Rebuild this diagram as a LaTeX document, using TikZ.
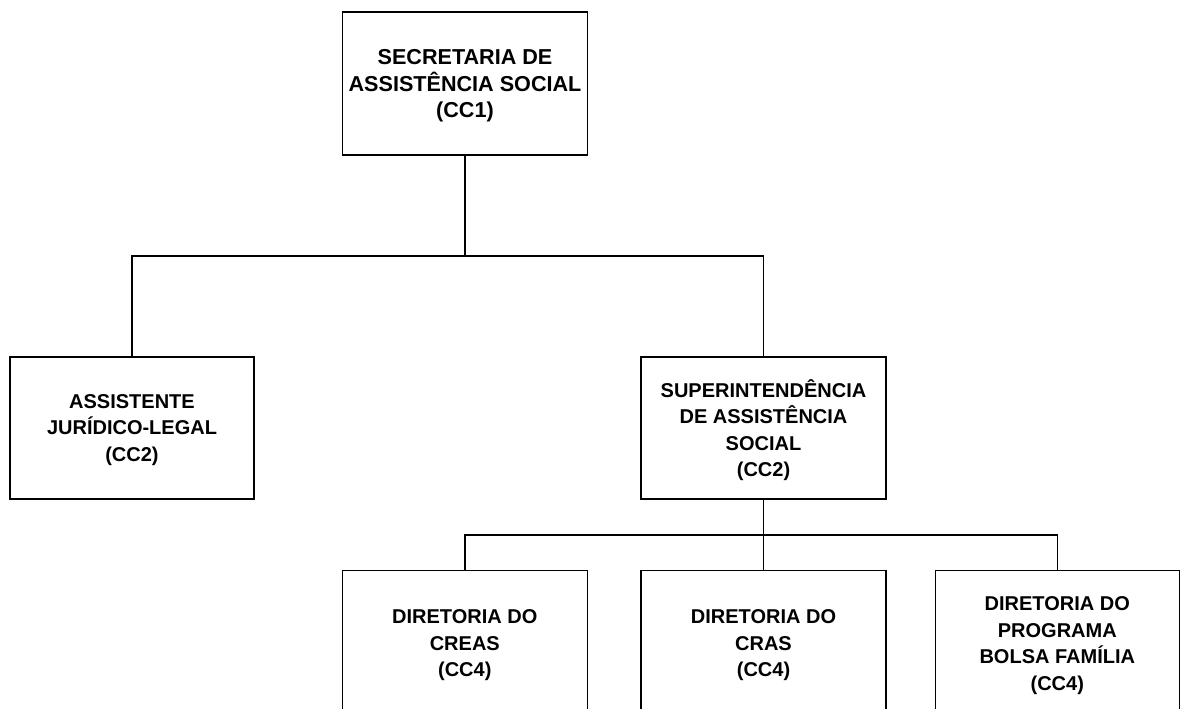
\documentclass[tikz,border=0pt]{standalone}
\usepackage{fontspec}
\setmainfont{Liberation Sans}
\begin{document}
\begin{tikzpicture}[x=1pt,y=-1pt,
  orgbox/.style={draw=black,line width=1.5pt,fill=white,inner sep=0pt,align=center,
    text depth=0pt,font=\bfseries\fontsize{20}{26.5}\selectfont,minimum width=245pt},
  topbox/.style={orgbox,font=\bfseries\fontsize{21.6}{26.5}\selectfont},
  link/.style={draw=black,line width=1.4pt}]
\useasboundingbox (0,0) rectangle (1181,709);
\clip (0,0) rectangle (1181,709);
\fill[white] (0,0) rectangle (1181,709);

\node[topbox,minimum height=143pt] (sec) at (465,83.5) {SECRETARIA DE\\ASSISTÊNCIA SOCIAL\\(CC1)};
\node[orgbox,minimum width=244pt,minimum height=142pt] (jur) at (132,428) {ASSISTENTE\\JURÍDICO-LEGAL\\(CC2)};
\node[orgbox,minimum height=142pt] (sup) at (763.5,428) {SUPERINTENDÊNCIA\\DE ASSISTÊNCIA\\SOCIAL\\(CC2)};

\node[orgbox,minimum height=146pt] (creas) at (464.8,643.5) {DIRETORIA DO\\CREAS\\(CC4)};
\node[orgbox,minimum height=146pt] (cras) at (763.5,643.5) {DIRETORIA DO\\CRAS\\(CC4)};
\node[orgbox,minimum width=244pt,minimum height=146pt] (bolsa) at (1057.3,643.5) {DIRETORIA DO\\PROGRAMA\\BOLSA FAMÍLIA\\(CC4)};

\coordinate (j1) at (465,256);
\coordinate (j2) at (763.5,535);

\draw[link] (sec.south) -- (j1);
\draw[link] (j1) -| (jur.north);
\draw[link] (j1) -| (sup.north);

\draw[link] (sup.south) -- (j2);
\draw[link] (j2) -| (creas.north);
\draw[link] (j2) -- (cras.north);
\draw[link] (j2) -| (bolsa.north);
\end{tikzpicture}
\end{document}
